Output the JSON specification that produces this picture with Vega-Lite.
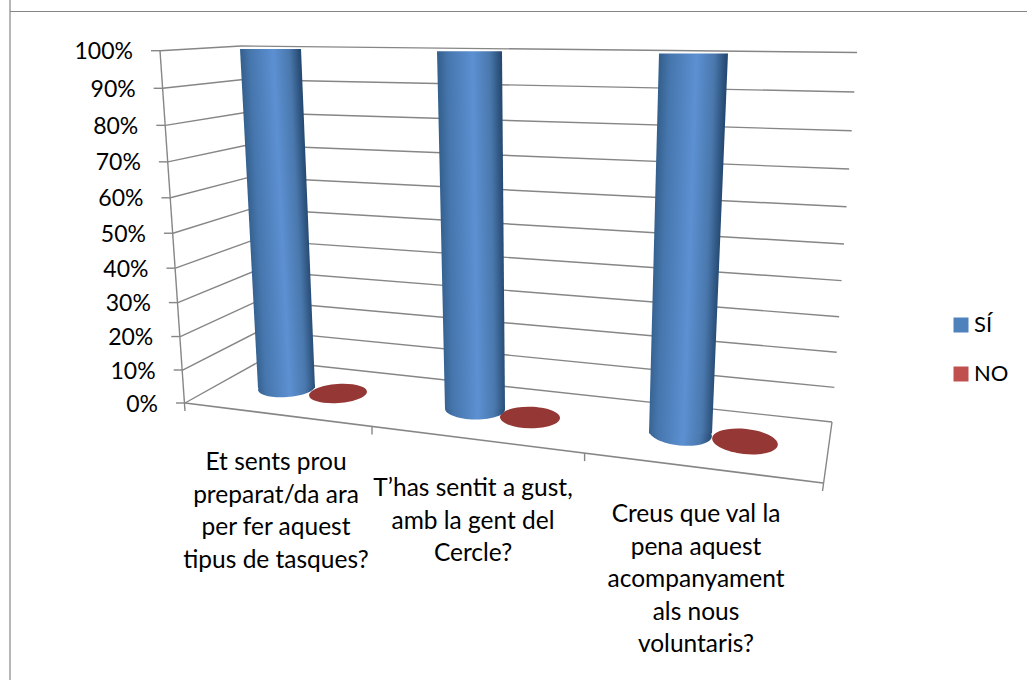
{
"$schema":"https://vega.github.io/schema/vega-lite/v6.json",
"width":1027,"height":680,"padding":0,"autosize":{"type":"none"},
"background":"white",
"view":{"stroke":null},
"config":{"font":"Lato","text":{"font":"Lato","fontSize":23,"color":"#000000"},"rule":{"color":"#868686","strokeWidth":1.4}},
"datasets":{
"respostes":[
{"ordre":0,"pregunta":"Et sents prou\npreparat/da ara\nper fer aquest\ntipus de tasques?","serie":"SÍ","valor":100},
{"ordre":0,"pregunta":"Et sents prou\npreparat/da ara\nper fer aquest\ntipus de tasques?","serie":"NO","valor":0},
{"ordre":1,"pregunta":"T’has sentit a gust,\namb la gent del\nCercle?","serie":"SÍ","valor":100},
{"ordre":1,"pregunta":"T’has sentit a gust,\namb la gent del\nCercle?","serie":"NO","valor":0},
{"ordre":2,"pregunta":"Creus que val la\npena aquest\nacompanyament\nals nous\nvoluntaris?","serie":"SÍ","valor":100},
{"ordre":2,"pregunta":"Creus que val la\npena aquest\nacompanyament\nals nous\nvoluntaris?","serie":"NO","valor":0}
],
"graella":[{"pct":0},{"pct":10},{"pct":20},{"pct":30},{"pct":40},{"pct":50},{"pct":60},{"pct":70},{"pct":80},{"pct":90},{"pct":100}],
"divisions":[{"d":0},{"d":1},{"d":2},{"d":3}]
},
"encoding":{
"x":{"field":"sx","type":"quantitative","scale":{"domain":[0,1027],"nice":false,"zero":false},"axis":null},
"y":{"field":"sy","type":"quantitative","scale":{"domain":[680,0],"nice":false,"zero":false},"axis":null}
},
"layer":[
{"data":{"name":"divisions"},"transform":[{"filter":"datum.d==0"},{"calculate":"10","as":"sx"},{"calculate":"0","as":"sy"},{"calculate":"10","as":"sx2"},{"calculate":"680","as":"sy2"}],
 "mark":{"type":"rule","strokeWidth":1.2},"encoding":{"x2":{"field":"sx2"},"y2":{"field":"sy2"}}},
{"data":{"name":"divisions"},"transform":[{"filter":"datum.d==0"},{"calculate":"10","as":"sx"},{"calculate":"11.5","as":"sy"},{"calculate":"1027","as":"sx2"},{"calculate":"11.5","as":"sy2"}],
 "mark":{"type":"rule","strokeWidth":1.2},"encoding":{"x2":{"field":"sx2"},"y2":{"field":"sy2"}}},
{"data":{"name":"graella"},"transform":[
 {"calculate":"0.93*datum.pct/100/(1-0.07*datum.pct/100)","as":"t"},
 {"calculate":"185-25*datum.t","as":"sx"},{"calculate":"403-352.3*datum.t","as":"sy"},
 {"calculate":"262-21*datum.t","as":"sx2"},{"calculate":"360-314*datum.t","as":"sy2"}],
 "mark":{"type":"rule"},"encoding":{"x2":{"field":"sx2"},"y2":{"field":"sy2"}}},
{"data":{"name":"graella"},"transform":[
 {"calculate":"0.93*datum.pct/100/(1-0.07*datum.pct/100)","as":"t"},
 {"calculate":"262-21*datum.t","as":"sx"},{"calculate":"360-314*datum.t","as":"sy"},
 {"calculate":"832+25*datum.t","as":"sx2"},{"calculate":"422-369.5*datum.t","as":"sy2"}],
 "mark":{"type":"rule"},"encoding":{"x2":{"field":"sx2"},"y2":{"field":"sy2"}}},
{"data":{"name":"graella"},"transform":[
 {"calculate":"0.93*datum.pct/100/(1-0.07*datum.pct/100)","as":"t"},
 {"calculate":"185-25*datum.t","as":"sx"},{"calculate":"403-352.3*datum.t","as":"sy"},
 {"calculate":"datum.sx-9","as":"sx2"},{"calculate":"datum.sy","as":"sy2"}],
 "mark":{"type":"rule"},"encoding":{"x2":{"field":"sx2"},"y2":{"field":"sy2"}}},
{"data":{"name":"graella"},"transform":[{"filter":"datum.pct==100"},
 {"calculate":"160","as":"sx"},{"calculate":"50.7","as":"sy"},{"calculate":"185","as":"sx2"},{"calculate":"411","as":"sy2"}],
 "mark":{"type":"rule"},"encoding":{"x2":{"field":"sx2"},"y2":{"field":"sy2"}}},
{"data":{"name":"divisions"},"transform":[{"filter":"datum.d==0"},
 {"calculate":"185","as":"sx"},{"calculate":"403","as":"sy"},{"calculate":"823","as":"sx2"},{"calculate":"483","as":"sy2"}],
 "mark":{"type":"rule","strokeWidth":1.6},"encoding":{"x2":{"field":"sx2"},"y2":{"field":"sy2"}}},
{"data":{"name":"divisions"},"transform":[{"filter":"datum.d==3"},
 {"calculate":"832","as":"sx"},{"calculate":"422","as":"sy"},{"calculate":"822.5","as":"sx2"},{"calculate":"491","as":"sy2"}],
 "mark":{"type":"rule"},"encoding":{"x2":{"field":"sx2"},"y2":{"field":"sy2"}}},
{"data":{"name":"divisions"},"transform":[{"filter":"datum.d==1||datum.d==2"},
 {"calculate":"185+174.2*datum.d+12.8*datum.d*datum.d","as":"sx"},{"calculate":"403+0.1254*(datum.sx-185)","as":"sy"},
 {"calculate":"datum.sx","as":"sx2"},{"calculate":"datum.sy+8","as":"sy2"}],
 "mark":{"type":"rule"},"encoding":{"x2":{"field":"sx2"},"y2":{"field":"sy2"}}},
{"data":{"name":"graella"},"transform":[
 {"calculate":"0.93*datum.pct/100/(1-0.07*datum.pct/100)","as":"t"},
 {"calculate":"185-25*datum.t-27","as":"sx"},{"calculate":"403-352.3*datum.t+1.5","as":"sy"},
 {"calculate":"datum.pct+'%'","as":"etiqueta"}],
 "mark":{"type":"text","align":"right","baseline":"middle"},"encoding":{"text":{"field":"etiqueta"}}},
{"data":{"name":"respostes"},"transform":[{"filter":"datum.serie=='NO'"},
 {"calculate":"338+180.5*datum.ordre+11.5*datum.ordre*datum.ordre","as":"sx"},
 {"calculate":"393.5+24*datum.ordre","as":"sy"},
 {"calculate":"pow(2*(29+datum.ordre*datum.ordre),2)","as":"mida"},
 {"calculate":"-4+5*datum.ordre","as":"angle"},
 {"calculate":"'M-1,0A1,'+[0.33,0.36,0.38][datum.ordre]+',0,1,1,1,0A1,'+[0.33,0.36,0.38][datum.ordre]+',0,1,1,-1,0Z'","as":"forma"}],
 "mark":{"type":"point","filled":true,"opacity":1,"color":"#953735"},
 "encoding":{"size":{"field":"mida","type":"quantitative","scale":null},
 "angle":{"field":"angle","type":"quantitative","scale":null},
 "shape":{"field":"forma","type":"nominal","legend":null,"scale":null}}},
{"data":{"name":"respostes"},"transform":[{"filter":"datum.serie=='SÍ'"},
 {"calculate":"286.5+180*datum.ordre+8.5*datum.ordre*datum.ordre","as":"sx"},
 {"calculate":"388+19.25*datum.ordre+1.75*datum.ordre*datum.ordre","as":"sy"},
 {"calculate":"pow(2*(28.5+1.5*datum.ordre),2)","as":"mida"},
 {"calculate":"-4+5*datum.ordre","as":"angle"},
 {"calculate":"'M-1,0A1,'+[0.32,0.35,0.38][datum.ordre]+',0,1,1,1,0A1,'+[0.32,0.35,0.38][datum.ordre]+',0,1,1,-1,0Z'","as":"forma"}],
 "mark":{"type":"point","filled":true,"opacity":1,"color":{"gradient":"linear","x1":0,"y1":0,"x2":1,"y2":0,"stops":[{"offset":0,"color":"#35618f"},{"offset":0.15,"color":"#4676ad"},{"offset":0.55,"color":"#5c90d2"},{"offset":0.82,"color":"#4a78ad"},{"offset":1,"color":"#264a72"}]}},
 "encoding":{"size":{"field":"mida","type":"quantitative","scale":null},
 "angle":{"field":"angle","type":"quantitative","scale":null},
 "shape":{"field":"forma","type":"nominal","legend":null,"scale":null}}},
{"data":{"name":"respostes"},"transform":[{"filter":"datum.serie=='SÍ' && datum.ordre==0"},
 {"calculate":"[0,datum.valor]","as":"v"},{"flatten":["v"]},
 {"calculate":"datum.v/100","as":"p"},
 {"calculate":"286.5+180*datum.ordre+8.5*datum.ordre*datum.ordre+datum.p*(-16+6.5*datum.ordre+4*datum.ordre*datum.ordre)","as":"cx"},
 {"calculate":"388+19.25*datum.ordre+1.75*datum.ordre*datum.ordre","as":"by"},
 {"calculate":"datum.by+datum.p*(49+2.25*datum.ordre-datum.by)","as":"sy"},
 {"calculate":"28.5+1.5*datum.ordre+datum.p*(2+0.5*datum.ordre)","as":"hw"},
 {"calculate":"datum.cx-datum.hw","as":"sx"},{"calculate":"datum.cx+datum.hw","as":"sx2"}],
 "mark":{"type":"area","orient":"horizontal","color":{"gradient":"linear","x1":0.12,"y1":0.5,"x2":0.87,"y2":0.335,"stops":[{"offset":0,"color":"#35618f"},{"offset":0.15,"color":"#4676ad"},{"offset":0.55,"color":"#5c90d2"},{"offset":0.82,"color":"#4a78ad"},{"offset":1,"color":"#264a72"}]}},
 "encoding":{"x":{"field":"sx","type":"quantitative","stack":null,"scale":{"domain":[0,1027],"nice":false,"zero":false},"axis":null},"x2":{"field":"sx2"}}},
{"data":{"name":"respostes"},"transform":[{"filter":"datum.serie=='SÍ' && datum.ordre==1"},
 {"calculate":"[0,datum.valor]","as":"v"},{"flatten":["v"]},
 {"calculate":"datum.v/100","as":"p"},
 {"calculate":"286.5+180*datum.ordre+8.5*datum.ordre*datum.ordre+datum.p*(-16+6.5*datum.ordre+4*datum.ordre*datum.ordre)","as":"cx"},
 {"calculate":"388+19.25*datum.ordre+1.75*datum.ordre*datum.ordre","as":"by"},
 {"calculate":"datum.by+datum.p*(49+2.25*datum.ordre-datum.by)","as":"sy"},
 {"calculate":"28.5+1.5*datum.ordre+datum.p*(2+0.5*datum.ordre)","as":"hw"},
 {"calculate":"datum.cx-datum.hw","as":"sx"},{"calculate":"datum.cx+datum.hw","as":"sx2"}],
 "mark":{"type":"area","orient":"horizontal","color":{"gradient":"linear","x1":0.059,"y1":0.5,"x2":0.972,"y2":0.427,"stops":[{"offset":0,"color":"#35618f"},{"offset":0.15,"color":"#4676ad"},{"offset":0.55,"color":"#5c90d2"},{"offset":0.82,"color":"#4a78ad"},{"offset":1,"color":"#264a72"}]}},
 "encoding":{"x":{"field":"sx","type":"quantitative","stack":null,"scale":{"domain":[0,1027],"nice":false,"zero":false},"axis":null},"x2":{"field":"sx2"}}},
{"data":{"name":"respostes"},"transform":[{"filter":"datum.serie=='SÍ' && datum.ordre==2"},
 {"calculate":"[0,datum.valor]","as":"v"},{"flatten":["v"]},
 {"calculate":"datum.v/100","as":"p"},
 {"calculate":"286.5+180*datum.ordre+8.5*datum.ordre*datum.ordre+datum.p*(-16+6.5*datum.ordre+4*datum.ordre*datum.ordre)","as":"cx"},
 {"calculate":"388+19.25*datum.ordre+1.75*datum.ordre*datum.ordre","as":"by"},
 {"calculate":"datum.by+datum.p*(49+2.25*datum.ordre-datum.by)","as":"sy"},
 {"calculate":"28.5+1.5*datum.ordre+datum.p*(2+0.5*datum.ordre)","as":"hw"},
 {"calculate":"datum.cx-datum.hw","as":"sx"},{"calculate":"datum.cx+datum.hw","as":"sx2"}],
 "mark":{"type":"area","orient":"horizontal","color":{"gradient":"linear","x1":0.063,"y1":0.5,"x2":0.876,"y2":0.634,"stops":[{"offset":0,"color":"#35618f"},{"offset":0.15,"color":"#4676ad"},{"offset":0.55,"color":"#5c90d2"},{"offset":0.82,"color":"#4a78ad"},{"offset":1,"color":"#264a72"}]}},
 "encoding":{"x":{"field":"sx","type":"quantitative","stack":null,"scale":{"domain":[0,1027],"nice":false,"zero":false},"axis":null},"x2":{"field":"sx2"}}},
{"data":{"name":"respostes"},"transform":[{"filter":"datum.serie=='SÍ'"},
 {"calculate":"276+184*datum.ordre+13*datum.ordre*datum.ordre","as":"sx"},
 {"calculate":"451+26*datum.ordre","as":"sy"}],
 "mark":{"type":"text","align":"center","baseline":"top","lineBreak":"\n","lineHeight":32.6,"fontSize":24.5},
 "encoding":{"text":{"field":"pregunta"}}},
{"data":{"name":"respostes"},"transform":[{"calculate":"500","as":"sx"},{"calculate":"300","as":"sy"}],
 "mark":{"type":"point","filled":true},
 "encoding":{"size":{"value":0},
 "color":{"field":"serie","type":"nominal","scale":{"domain":["SÍ","NO"],"range":["#4f81bd","#c0504d"]},
 "legend":{"title":null,"orient":"none","legendX":950,"legendY":314,"symbolType":"square","symbolSize":225,"symbolOpacity":1,"symbolStrokeWidth":0,"labelFont":"Lato","labelFontSize":22,"labelColor":"#000000","labelOffset":2,"rowPadding":27}}}}
]
}
